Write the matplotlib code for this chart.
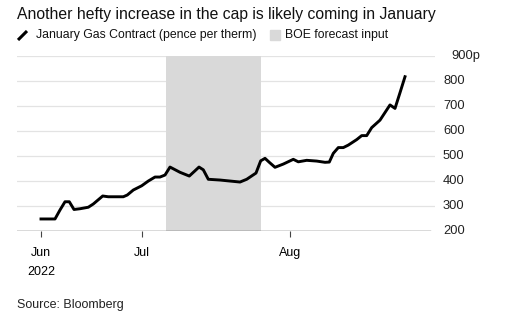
import matplotlib
matplotlib.use("Agg")
import matplotlib.pyplot as plt
from matplotlib.lines import Line2D
from matplotlib.patches import Rectangle

plt.rcParams['font.family'] = ['Liberation Sans', 'DejaVu Sans']

# x positions (relative horizontal position, Jun tick = 0), values in pence per therm
x = [0, 14, 19, 24, 28.3, 33, 39, 47.3, 52.3, 61.7, 67.3, 82.3, 86.3, 92.3, 100.7, 107.3,
     114, 119, 124, 129, 139, 148.3, 154, 158, 162.3, 167.3, 179, 189, 199, 205.7, 215,
     219.7, 224, 228.3, 234, 242.3, 252.3, 257.3, 265.7, 275.7, 284, 288.3, 292.3, 297.3,
     302.3, 307.3, 315.7, 320.7, 325.7, 330.7, 339, 349, 354, 359, 364]
y = [247, 247, 283, 316, 316, 285, 288, 294, 307, 339, 336, 336, 343, 363, 380, 399,
     415, 415, 423, 455, 434, 419, 440, 455, 444, 406, 403, 399, 395, 406, 431,
     480, 490, 474, 454, 467, 486, 476, 482, 479, 474, 475, 510, 533,
     533, 543, 565, 581, 581, 613, 643, 704, 690, 753, 817]

shade_start, shade_end = 125, 220
tick_pos = [0, 101, 249]
tick_labels = ["Jun\n2022", "Jul", "Aug"]
yticks = [200, 300, 400, 500, 600, 700, 800, 900]
ytick_labels = ["200", "300", "400", "500", "600", "700", "800", "900p"]

W, H = 529, 324
fig = plt.figure(figsize=(W / 100, H / 100), dpi=100)
x0_px, x1_px = 17, 435
y_top_px, y_bot_px = 56, 230.7
ax = fig.add_axes([x0_px / W, 1 - y_bot_px / H, (x1_px - x0_px) / W, (y_bot_px - y_top_px) / H])
# data x: px = 41 + x
ax.set_xlim(x0_px - 41, x1_px - 41)
ax.set_ylim(200, 900)

for v in yticks[1:]:
    ax.axhline(v, color='#e3e3e3', lw=0.9, zorder=0)
ax.axhline(200, xmax=(430 - x0_px) / (x1_px - x0_px), color='#444444', lw=1.0, zorder=3)

ax.axvspan(shade_start, shade_end, color='#d9d9d9', zorder=1, lw=0)
ax.plot(x, y, color='black', lw=2.1, zorder=4, solid_joinstyle='round')

for s in ax.spines.values():
    s.set_visible(False)
ax.set_yticks([])
ax.set_xticks(tick_pos)
ax.set_xticklabels(tick_labels, fontsize=9, linespacing=1.7)
ax.tick_params(axis='x', length=4, width=0.8, color='#444444', pad=8)
ax.set_clip_on(False)

for v, lab in zip(yticks, ytick_labels):
    xpx = 451 if lab.endswith('p') else 443
    ax.text((xpx - x0_px) / (x1_px - x0_px), v, lab,
            transform=ax.get_yaxis_transform(), ha='left', va='center', fontsize=9.3, color='#222222')

fig.text(17 / W, 1 - 14 / H, "Another hefty increase in the cap is likely coming in January",
         fontsize=11.3, ha='left', va='center', color='#111111')
# legend
fig.add_artist(Line2D([18 / W, 27 / W], [1 - 40 / H, 1 - 31 / H], color='black', lw=2.2,
                      solid_capstyle='butt'))
fig.text(36 / W, 1 - 35 / H, "January Gas Contract (pence per therm)", fontsize=8.8, ha='left', va='center',
         color='#111111')
fig.add_artist(Rectangle((270 / W, 1 - 40 / H), 10 / W, 10 / H, color='#d9d9d9', transform=fig.transFigure))
fig.text(285 / W, 1 - 35 / H, "BOE forecast input", fontsize=8.8, ha='left', va='center', color='#111111')

fig.text(17 / W, 1 - 305 / H, "Source: Bloomberg", fontsize=9, ha='left', va='center', color='#222222')

fig.savefig("out.png", dpi=100)
